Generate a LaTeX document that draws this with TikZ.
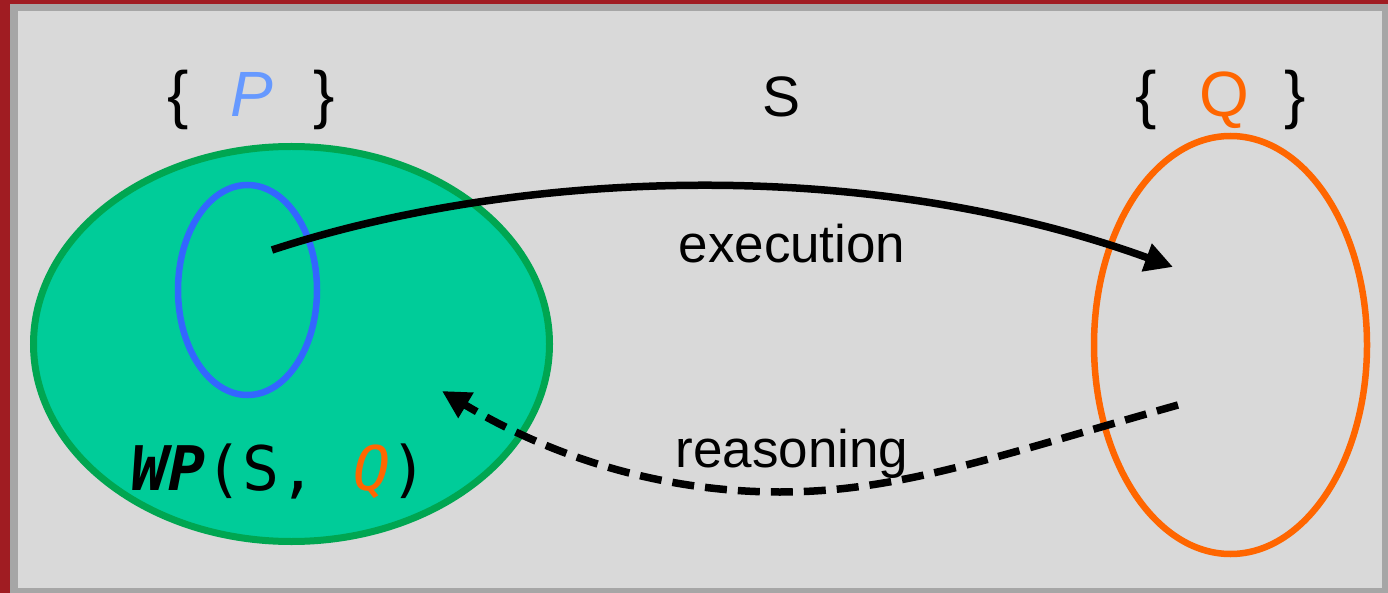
\documentclass[tikz,border=0pt]{standalone}
\usepackage{fontspec}
\setmainfont{Liberation Sans}
\setmonofont{DejaVu Sans Mono}
\usetikzlibrary{arrows.meta,shapes.geometric}
\definecolor{framered}{HTML}{A01C22}
\definecolor{framegray}{HTML}{A6A6A6}
\definecolor{panel}{HTML}{D9D9D9}
\definecolor{wpfill}{HTML}{00CC99}
\definecolor{wpgreen}{HTML}{00A651}
\definecolor{pblue}{HTML}{3366FF}
\definecolor{plabel}{HTML}{6699FF}
\definecolor{qorange}{HTML}{FF6600}
\tikzset{
  setshape/.style={ellipse, inner sep=0pt, line width=6.5pt},
  lbl/.style={inner sep=0pt, anchor=base, font=\fontsize{53}{60}\selectfont},
  brace/.style={inner sep=0pt, anchor=base, font=\fontsize{64}{70}\selectfont},
  flow/.style={line width=7.5pt, -{Triangle[length=28pt,width=28pt]}},
}
\begin{document}
\begin{tikzpicture}[x=1pt,y=-1pt]
\useasboundingbox (0,0) rectangle (1388,593);
\fill[framered] (0,0) rectangle (1388,593);
\fill[framegray] (10,4) rectangle (1388,593);
\fill[panel] (18,11) rectangle (1382,588);

\node[setshape, draw=wpgreen, fill=wpfill, line width=7pt, minimum width=516pt, minimum height=395pt] (wp) at (291.5,344) {};
\node[setshape, draw=pblue, minimum width=139pt, minimum height=210pt] (p) at (247.5,290) {};
\node[setshape, draw=qorange, minimum width=273pt, minimum height=418pt] (q) at (1230.5,345) {};

\node[brace] (pre) at (251,117) {\{\hspace{42pt}\textcolor{plabel}{\textit{P}}\hspace{40pt}\}};
\node[brace] (post) at (1221,117) {\{\hspace{42pt}\textcolor{qorange}{Q}\hspace{36pt}\}};
\node[lbl, font=\fontsize{57}{64}\selectfont] (s) at (781,117) {S};
\node[inner sep=0pt, anchor=base west, font=\ttfamily\fontsize{61.5}{66}\selectfont] (wplabel) at (131,490) {\textbf{\textit{WP}}(S, \textcolor{qorange}{\textit{Q}})};

\node[lbl] (exec) at (792,263) {execution};
\node[lbl] (reas) at (792,467) {reasoning};

\coordinate (ps) at (272,250);
\coordinate (qe) at (1173,267);
\coordinate (qs) at (1178,405);
\coordinate (rb) at (780,492);
\coordinate (we) at (442,391);

\draw[flow] (ps) .. controls (500,175) and (850,150) .. (qe);
\draw[flow, dash pattern=on 22pt off 11pt] (qs) .. controls (1000,455) and (900,492) .. (rb) .. controls (650,492) and (540,450) .. (we);
\end{tikzpicture}
\end{document}
